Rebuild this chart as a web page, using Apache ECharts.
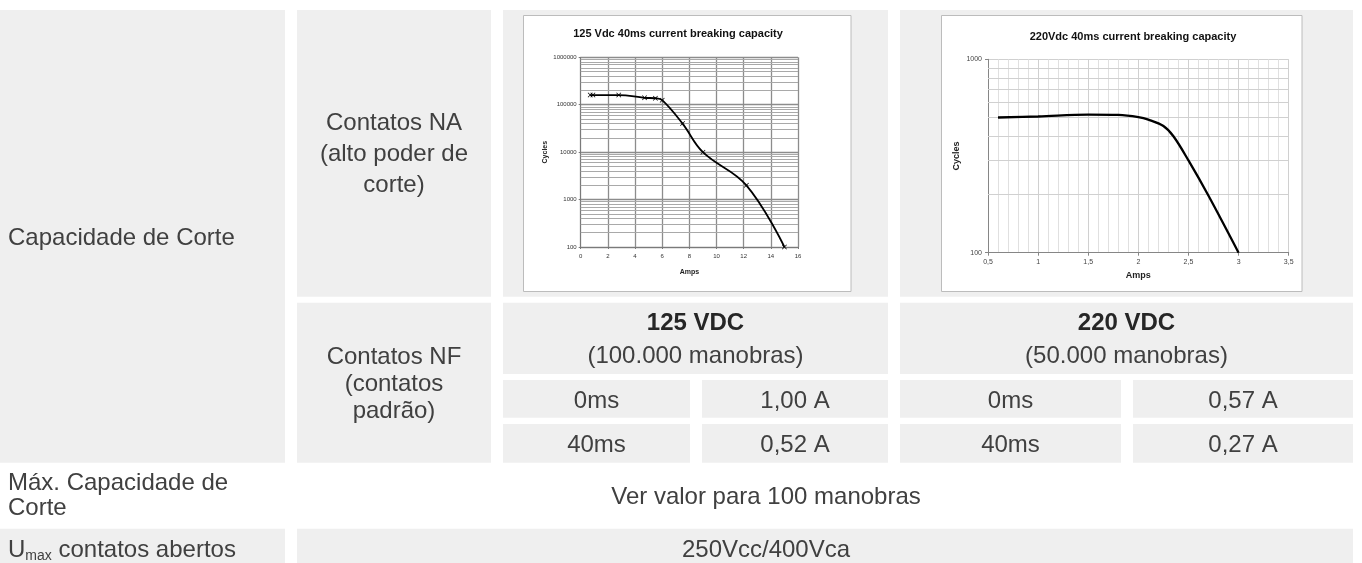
<!DOCTYPE html>
<html><head><meta charset="utf-8">
<script src="https://cdn.jsdelivr.net/npm/echarts@6/dist/echarts.min.js"></script>
<style>html,body{margin:0;padding:0;background:#fff;}#c{width:1362px;height:563px;}</style>
</head><body><div id="c"></div>
<script>
// ---- Chart 1: 125 Vdc 40ms current breaking capacity ----
const amps125 = [0.7, 0.9, 2.8, 4.7, 5.5, 6.0, 7.5, 9.0, 12.2, 15.0];
const cycles125 = [160000, 160000, 160000, 140000, 137000, 125000, 40000, 10000, 2000, 100];
const decades125 = [100, 1000, 10000, 100000];
// ---- Chart 2: 220Vdc 40ms current breaking capacity ----
const amps220 = [0.6, 1.0, 1.5, 1.8, 2.0, 2.1, 2.25, 2.35, 2.5, 2.7, 3.0];
const cycles220 = [500, 506, 518, 516, 503, 488, 452, 400, 300, 197, 100];
const decades220 = [100];
const minorMultipliers = [2, 3, 4, 5, 6, 7, 8, 9];
// ---- Table texts ----
const title125 = '125 Vdc 40ms current breaking capacity';
const title220 = '220Vdc 40ms current breaking capacity';
const rowCapacidade = 'Capacidade de Corte';
const rowNA = 'Contatos NA\n(alto poder de\ncorte)';
const rowNF = 'Contatos NF\n(contatos\npadrão)';
const voltages = ['125 VDC', '220 VDC'];
const operations = ['(100.000 manobras)', '(50.000 manobras)'];
const delays = ['0ms', '40ms'];
const currents125 = ['1,00 A', '0,52 A'];
const currents220 = ['0,57 A', '0,27 A'];
const rowMax = 'Máx. Capacidade de\nCorte';
const valueMax = 'Ver valor para 100 manobras';
const valueUmax = '250Vcc/400Vca';

const FF = '"Liberation Sans", Arial, sans-serif';
const GREY = '#efefef';
const TXT = '#404040';

function minorLines(decades) {
  const out = [];
  decades.forEach(d => minorMultipliers.forEach(m => out.push({ yAxis: d * m })));
  return out;
}

const rects = [
  [0, 10, 285, 462.7],
  [297, 10, 491, 296.7],
  [503, 10, 888, 296.7],
  [900, 10, 1353, 296.7],
  [297, 302.7, 491, 462.7],
  [503, 302.7, 888, 374],
  [900, 302.7, 1353, 374],
  [503, 380, 690, 417.7], [702, 380, 888, 417.7], [900, 380, 1121, 417.7], [1133, 380, 1353, 417.7],
  [503, 424, 690, 462.7], [702, 424, 888, 462.7], [900, 424, 1121, 462.7], [1133, 424, 1353, 462.7],
  [0, 528.7, 285, 570],
  [297, 528.7, 1353, 570]
];

const graphic = [];
rects.forEach(r => graphic.push({ type: 'rect', z: -20, silent: true,
  shape: { x: r[0], y: r[1], width: r[2] - r[0], height: r[3] - r[1] }, style: { fill: GREY } }));
// chart frames
[[523.5, 15.5, 851, 291.5], [941.5, 15.5, 1302, 291.5]].forEach(r => graphic.push({ type: 'rect', z: -10, silent: true,
  shape: { x: r[0], y: r[1], width: r[2] - r[0], height: r[3] - r[1] }, style: { fill: '#fff', stroke: '#bcbcbc', lineWidth: 1 } }));

function txt(text, x, y, opts) {
  opts = opts || {};
  graphic.push({ type: 'text', z: 10, silent: true, x: x, y: y,
    style: { text: text, fill: opts.fill || TXT, font: (opts.weight || 'normal') + ' ' + (opts.size || 24) + 'px ' + FF,
      align: opts.align || 'center', verticalAlign: 'middle', lineHeight: opts.lh || 27 } });
}
txt(rowCapacidade, 8, 238, { align: 'left' });
txt(rowNA, 394, 154, { lh: 31 });
txt(rowNF, 394, 384, { lh: 27 });
txt(voltages[0], 695.5, 323, { weight: 'bold', fill: '#262626' });
txt(voltages[1], 1126.5, 323, { weight: 'bold', fill: '#262626' });
txt(operations[0], 695.5, 356);
txt(operations[1], 1126.5, 356);
txt(delays[0], 596.5, 401); txt(currents125[0], 795, 401);
txt(delays[0], 1010.5, 401); txt(currents220[0], 1243, 401);
txt(delays[1], 596.5, 445); txt(currents125[1], 795, 445);
txt(delays[1], 1010.5, 445); txt(currents220[1], 1243, 445);
txt(rowMax, 8, 496, { align: 'left', lh: 25 });
txt(valueMax, 766, 497);
txt(valueUmax, 766, 550);
graphic.push({ type: 'text', z: 10, silent: true, x: 8, y: 550,
  style: { text: '{u|U}{s|max}{n| contatos abertos}', align: 'left', verticalAlign: 'middle',
    rich: { u: { fontSize: 24, fontFamily: FF, fill: TXT, color: TXT, lineHeight: 27 },
            s: { fontSize: 14, fontFamily: FF, fill: TXT, color: TXT, verticalAlign: 'bottom', lineHeight: 20 },
            n: { fontSize: 24, fontFamily: FF, fill: TXT, color: TXT, lineHeight: 27 } } } });
// chart titles
txt(title125, 678, 34, { weight: 'bold', size: 11, fill: '#111' });
txt(title220, 1133, 37, { weight: 'bold', size: 11, fill: '#111' });

const option = {
  animation: false,
  backgroundColor: '#fff',
  graphic: graphic,
  grid: [
    { left: 580.7, top: 57.3, width: 217.3, height: 189.7 },
    { left: 988, top: 59.3, width: 300.7, height: 193.4 }
  ],
  xAxis: [
    { gridIndex: 0, type: 'value', min: 0, max: 16, interval: 2,
      axisLine: { show: true, onZero: false, lineStyle: { color: '#7a7a7a', width: 1 } },
      axisTick: { show: true, length: 2, lineStyle: { color: '#7a7a7a' } },
      axisLabel: { fontSize: 6, margin: 6, color: '#333', fontFamily: FF },
      splitLine: { show: true, lineStyle: { color: '#8c8c8c', width: 1.3 } },
      name: 'Amps', nameLocation: 'middle', nameGap: 22,
      nameTextStyle: { fontSize: 7, fontWeight: 'bold', color: '#222', fontFamily: FF } },
    { gridIndex: 1, type: 'value', min: 0.5, max: 3.5, interval: 0.5,
      axisLine: { show: true, onZero: false, lineStyle: { color: '#868686', width: 1 } },
      axisTick: { show: true, length: 3, lineStyle: { color: '#868686' } },
      minorTick: { show: false, splitNumber: 5 },
      minorSplitLine: { show: true, lineStyle: { color: '#e0e0e0', width: 1 } },
      axisLabel: { fontSize: 7, margin: 6, color: '#444', fontFamily: FF,
        formatter: v => String(Math.round(v * 10) / 10).replace('.', ',') },
      splitLine: { show: true, lineStyle: { color: '#d0d0d0', width: 1 } },
      name: 'Amps', nameLocation: 'middle', nameGap: 18,
      nameTextStyle: { fontSize: 9, fontWeight: 'bold', color: '#222', fontFamily: FF } }
  ],
  yAxis: [
    { gridIndex: 0, type: 'log', logBase: 10, min: 100, max: 1000000,
      axisLine: { show: true, lineStyle: { color: '#7a7a7a', width: 1 } },
      axisTick: { show: true, length: 2, lineStyle: { color: '#7a7a7a' } },
      axisLabel: { fontSize: 6, margin: 4, color: '#333', fontFamily: FF, formatter: v => String(Math.round(v)) },
      splitLine: { show: true, lineStyle: { color: '#8c8c8c', width: 1.3 } },
      name: 'Cycles', nameLocation: 'middle', nameGap: 32, nameRotate: 90,
      nameTextStyle: { fontSize: 7, fontWeight: 'bold', color: '#222', fontFamily: FF } },
    { gridIndex: 1, type: 'log', logBase: 10, min: 100, max: 1000,
      axisLine: { show: true, lineStyle: { color: '#868686', width: 1 } },
      axisTick: { show: true, length: 3, lineStyle: { color: '#868686' } },
      axisLabel: { fontSize: 7, margin: 6, color: '#444', fontFamily: FF, formatter: v => String(Math.round(v)) },
      splitLine: { show: true, lineStyle: { color: '#d0d0d0', width: 1 } },
      name: 'Cycles', nameLocation: 'middle', nameGap: 27, nameRotate: 90,
      nameTextStyle: { fontSize: 9, fontWeight: 'bold', color: '#222', fontFamily: FF } }
  ],
  series: [
    { type: 'line', xAxisIndex: 0, yAxisIndex: 0, z: 1, silent: true, showSymbol: false,
      data: amps125.map((a, i) => [a, cycles125[i]]), lineStyle: { opacity: 0 },
      markLine: { silent: true, symbol: ['none', 'none'], label: { show: false },
        lineStyle: { color: '#a9a9a9', width: 1, type: 'solid' }, data: minorLines(decades125) } },
    { type: 'line', xAxisIndex: 0, yAxisIndex: 0, z: 5, smooth: 0.4,
      data: amps125.map((a, i) => [a, cycles125[i]]),
      lineStyle: { color: '#000', width: 1.8 },
      symbol: 'path://M0,1L1,0L5,4L9,0L10,1L6,5L10,9L9,10L5,6L1,10L0,9L4,5Z', symbolSize: 5,
      itemStyle: { color: '#000' } },
    { type: 'line', xAxisIndex: 1, yAxisIndex: 1, z: 1, silent: true, showSymbol: false,
      data: amps220.map((a, i) => [a, cycles220[i]]), lineStyle: { opacity: 0 },
      markLine: { silent: true, symbol: ['none', 'none'], label: { show: false },
        lineStyle: { color: '#d0d0d0', width: 1, type: 'solid' }, data: minorLines(decades220) } },
    { type: 'line', xAxisIndex: 1, yAxisIndex: 1, z: 5, smooth: 0.35, showSymbol: false,
      data: amps220.map((a, i) => [a, cycles220[i]]),
      lineStyle: { color: '#000', width: 2.3 } }
  ]
};
const chart = echarts.init(document.getElementById('c'));
chart.setOption(option);
</script></body></html>
